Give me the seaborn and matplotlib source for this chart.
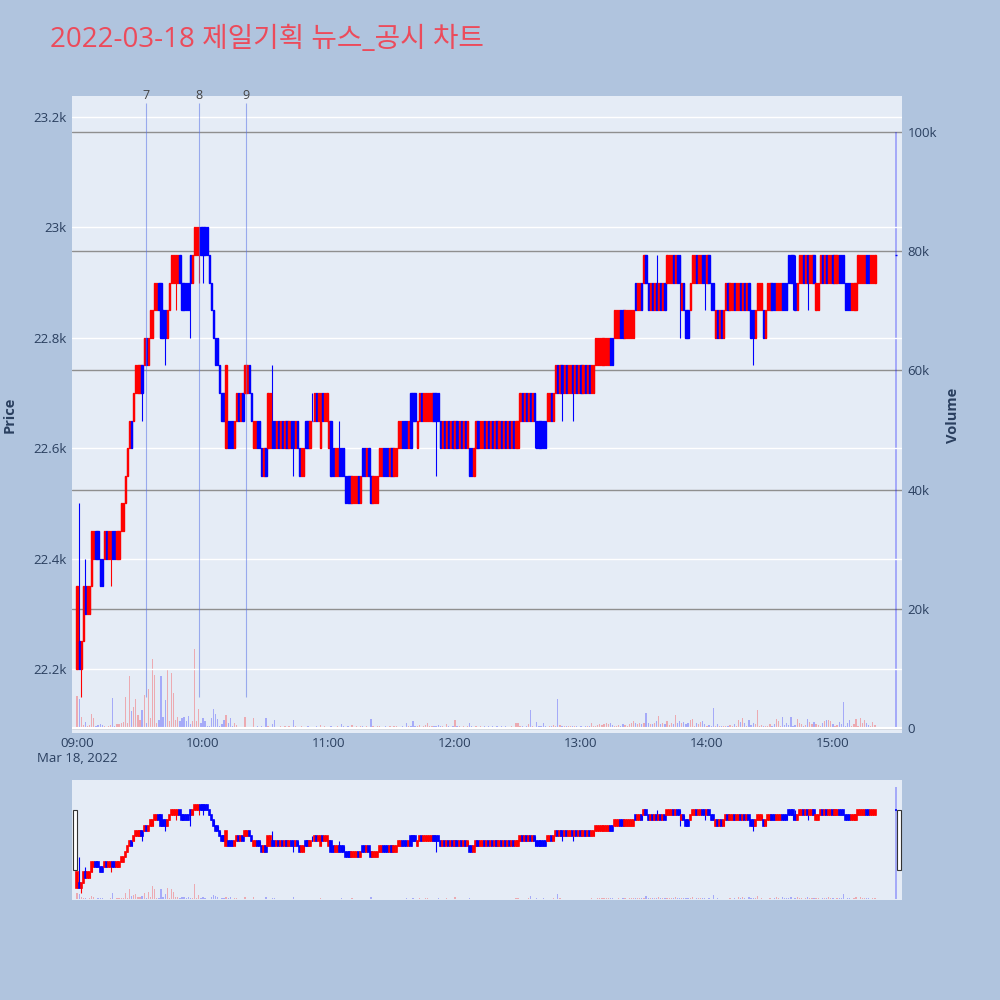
import numpy as np
import matplotlib
matplotlib.use("Agg")
import matplotlib.pyplot as plt
import seaborn as sns
from matplotlib.patches import Rectangle

sns.set_theme(style="white")
plt.rcParams["font.family"] = ["Open Sans", "Noto Sans CJK KR", "DejaVu Sans"]

# ------------------------------------------------------------
# data: 1-minute candles, prices in 50-won ticks above 22,000
# ------------------------------------------------------------
BASE = 22000
TICK = 50

# minutes after 09:00 (09:00 .. 15:20, then 15:30 closing auction)
minutes = list(range(381)) + [390]

open_ticks = [
    4, 5, 4, 5, 7, 6, 6, 7, 8, 9,          # 09:00
    9, 8, 8, 8, 9, 8, 8, 9, 9, 8,
    8, 9, 9, 10, 11, 12, 13, 13, 14, 14,
    14, 15, 15, 16, 15, 16, 16, 17, 17, 18,
    18, 17, 17, 16, 17, 18, 18, 18, 18, 19,
    18, 18, 18, 18, 19, 18, 19, 19, 19, 20,
    20, 20, 20, 19, 18, 17, 16, 16, 15, 14,  # 10:00
    14, 12, 13, 13, 13, 12, 13, 14, 13, 14,
    14, 14, 15, 14, 12, 12, 13, 13, 12, 11,
    12, 12, 12, 13, 13, 12, 13, 12, 13, 12,
    13, 12, 13, 13, 12, 13, 12, 11, 11, 13,
    13, 12, 13, 13, 14, 13, 12, 14, 13, 13,
    12, 13, 12, 11, 11, 12, 12, 12, 11, 11,  # 11:00
    11, 10, 10, 10, 11, 10, 12, 12, 11, 12,
    11, 10, 10, 10, 11, 11, 12, 12, 12, 11,
    12, 11, 11, 12, 12, 13, 13, 13, 12, 14,
    14, 14, 12, 13, 14, 13, 13, 13, 13, 13,
    14, 14, 14, 13, 12, 13, 12, 13, 12, 13,
    12, 13, 12, 13, 12, 13, 12, 12, 12, 11,  # 12:00
    12, 13, 12, 12, 13, 12, 13, 12, 13, 12,
    13, 12, 13, 12, 13, 12, 13, 12, 13, 12,
    12, 13, 14, 13, 14, 13, 14, 13, 14, 13,
    13, 13, 13, 13, 13, 13, 14, 13, 14, 15,
    14, 15, 14, 15, 14, 14, 15, 14, 15, 14,
    15, 14, 15, 14, 15, 14, 14, 15, 15, 15,  # 13:00
    15, 15, 15, 15, 16, 16, 16, 16, 16, 17,
    17, 16, 16, 16, 16, 16, 18, 17, 17, 18,
    18, 19, 18, 17, 18, 17, 18, 17, 18, 17,
    18, 18, 18, 18, 19, 18, 19, 19, 17, 18,
    17, 17, 17, 18, 18, 19, 18, 18, 19, 19,
    18, 19, 18, 18, 16, 17, 16, 17, 16, 17,  # 14:00
    18, 17, 17, 18, 17, 17, 18, 17, 18, 17,
    18, 17, 17, 16, 17, 17, 17, 17, 16, 17,
    17, 18, 18, 17, 17, 17, 18, 18, 18, 19,
    19, 19, 18, 17, 18, 18, 19, 18, 19, 18,
    18, 19, 17, 17, 18, 19, 18, 19, 18, 18,
    19, 18, 18, 19, 19, 19, 18, 18, 18, 17,  # 15:00
    17, 17, 18, 18, 18, 18, 19, 19, 18, 18,
    18,
    19,                                      # 15:30
]

close_ticks = [
    7, 4, 5, 7, 6, 7, 7, 9, 9, 8,
    8, 7, 7, 9, 8, 9, 9, 8, 8, 9,
    9, 10, 10, 11, 12, 13, 12, 14, 15, 15,
    15, 14, 16, 15, 16, 17, 17, 18, 18, 17,
    16, 16, 16, 17, 18, 19, 19, 19, 19, 18,
    17, 17, 17, 17, 18, 19, 20, 20, 20, 19,
    19, 19, 19, 18, 17, 16, 15, 15, 14, 13,
    13, 15, 12, 12, 12, 13, 14, 13, 14, 13,
    15, 15, 14, 13, 13, 13, 12, 12, 11, 12,
    11, 14, 14, 12, 12, 13, 12, 13, 12, 13,
    12, 13, 12, 12, 13, 12, 11, 12, 12, 12,
    12, 13, 13, 14, 13, 14, 14, 13, 14, 14,
    13, 11, 11, 12, 12, 11, 11, 11, 10, 10,
    10, 11, 11, 11, 10, 11, 11, 11, 12, 11,
    10, 11, 11, 11, 12, 12, 11, 11, 11, 12,
    11, 12, 12, 13, 13, 12, 12, 12, 13, 12,
    13, 13, 13, 14, 13, 14, 14, 14, 14, 14,
    13, 13, 13, 12, 13, 12, 13, 12, 13, 12,
    13, 12, 13, 12, 13, 12, 13, 11, 11, 12,
    13, 12, 13, 13, 12, 13, 12, 13, 12, 13,
    12, 13, 12, 13, 12, 13, 12, 13, 12, 13,
    13, 14, 13, 14, 13, 14, 13, 14, 13, 12,
    12, 12, 12, 12, 14, 14, 13, 14, 15, 14,
    15, 14, 15, 14, 15, 15, 14, 15, 14, 15,
    14, 15, 14, 15, 14, 15, 15, 16, 16, 16,
    16, 16, 16, 16, 15, 15, 17, 17, 17, 16,
    16, 17, 17, 17, 17, 17, 17, 18, 18, 17,
    19, 18, 17, 18, 17, 18, 17, 18, 17, 18,
    17, 19, 19, 19, 18, 19, 18, 18, 18, 17,
    16, 16, 18, 19, 19, 18, 19, 19, 18, 18,
    19, 18, 17, 17, 17, 16, 17, 16, 17, 18,
    17, 18, 18, 17, 18, 18, 17, 18, 17, 18,
    17, 16, 16, 17, 18, 18, 18, 16, 17, 18,
    18, 17, 17, 18, 18, 18, 17, 17, 17, 18,
    18, 18, 17, 18, 19, 19, 18, 19, 18, 19,
    19, 18, 18, 18, 19, 18, 19, 18, 19, 19,
    18, 19, 19, 18, 18, 18, 17, 17, 17, 18,
    18, 18, 19, 19, 19, 19, 18, 18, 19, 19,
    19,
    19,
]

# wicks that reach beyond the body (minute index -> tick)
wick_high = {1: 10, 4: 8, 93: 15, 112: 14, 125: 13, 276: 19, 342: 19}
wick_low = {2: 3, 16: 7, 31: 13, 42: 15, 47: 17, 54: 16, 58: 18, 60: 18,
            103: 11, 171: 11, 218: 12, 231: 13, 236: 13, 287: 16,
            299: 17, 322: 15, 341: 17, 348: 17}

# volume per minute, thousands of shares
volume_k = [
    5.3, 4.9, 1.8, 0.5, 1.0, 0.3, 0.5, 2.4, 1.7, 0.3,
    0.5, 0.6, 0.5, 0.3, 0.2, 0.4, 0.5, 5.0, 0.3, 0.6,
    0.7, 0.9, 1.0, 5.2, 0.8, 8.8, 2.8, 3.6, 4.9, 2.2,
    1.4, 3.0, 5.6, 0.8, 6.5, 1.6, 11.6, 8.9, 0.8, 1.3,
    8.8, 1.8, 4.7, 9.9, 1.1, 9.2, 5.9, 1.4, 1.8, 1.1,
    1.7, 1.9, 1.1, 2.0, 0.6, 1.1, 13.2, 1.1, 3.2, 0.9,
    1.7, 1.1, 0.4, 0.4, 1.7, 3.2, 2.4, 1.5, 0.4, 0.6,
    1.3, 2.1, 0.9, 1.6, 0.3, 0.9, 0.5, 0.2, 0.2, 0.2,
    1.8, 0.2, 0.2, 0.2, 1.6, 0.2, 0.3, 0.2, 0.3, 0.2,
    1.6, 0.3, 0.2, 0.6, 1.3, 0.2, 0.2, 0.3, 0.2, 0.3,
    0.2, 0.3, 0.2, 1.4, 0.3, 0.2, 0.2, 0.3, 0.2, 0.2,
    0.3, 0.2, 0.1, 0.2, 0.3, 0.2, 0.5, 0.2, 0.3, 0.2,
    0.2, 0.3, 0.2, 0.2, 0.4, 0.2, 0.7, 0.3, 0.2, 0.3,
    0.2, 0.5, 0.2, 0.3, 0.2, 0.4, 0.3, 0.2, 0.3, 0.2,
    1.5, 0.3, 0.2, 0.4, 0.3, 0.2, 0.2, 0.3, 0.2, 0.3,
    0.2, 0.4, 0.3, 0.2, 0.2, 0.3, 0.2, 0.8, 0.3, 0.3,
    1.2, 0.4, 0.3, 0.5, 0.2, 0.3, 0.5, 0.9, 0.3, 0.4,
    0.3, 0.3, 0.5, 0.3, 0.4, 0.2, 0.7, 0.3, 0.2, 0.3,
    1.4, 0.4, 0.3, 0.2, 0.3, 0.2, 0.3, 0.8, 0.3, 0.2,
    0.3, 0.2, 0.3, 0.2, 0.3, 0.2, 0.4, 0.2, 0.3, 0.2,
    0.3, 0.2, 0.4, 0.2, 0.3, 0.2, 0.2, 0.3, 0.2, 0.9,
    0.8, 0.4, 0.3, 0.2, 0.3, 0.6, 3.1, 0.3, 0.2, 1.0,
    0.4, 0.3, 0.8, 0.3, 0.2, 0.4, 0.3, 0.5, 0.3, 4.9,
    0.5, 0.3, 0.3, 0.4, 0.3, 0.4, 0.3, 0.3, 0.3, 0.2,
    0.3, 0.2, 0.3, 0.4, 0.3, 0.8, 0.4, 0.4, 0.5, 0.6,
    0.5, 0.6, 0.8, 0.7, 0.9, 0.5, 0.3, 0.4, 0.5, 0.4,
    0.6, 0.5, 0.4, 0.7, 0.8, 1.1, 0.9, 0.7, 0.8, 0.6,
    0.9, 2.5, 0.8, 0.6, 0.6, 0.8, 1.2, 2.0, 0.7, 0.9,
    0.7, 1.2, 0.5, 0.9, 0.6, 2.2, 0.8, 1.2, 0.9, 1.0,
    0.6, 0.8, 1.3, 1.5, 0.4, 0.9, 0.6, 1.0, 1.1, 0.6,
    0.3, 0.5, 0.3, 3.4, 0.4, 0.7, 0.4, 0.3, 0.4, 0.3,
    0.4, 0.5, 0.3, 0.6, 0.4, 1.4, 1.0, 1.7, 0.9, 0.3,
    1.4, 0.5, 0.9, 0.6, 3.1, 0.4, 0.5, 0.4, 0.3, 0.4,
    0.6, 0.3, 0.6, 1.5, 1.2, 0.4, 1.8, 0.5, 0.8, 0.5,
    1.9, 0.4, 0.5, 1.5, 0.9, 0.6, 0.4, 0.5, 1.5, 1.0,
    0.6, 1.0, 0.6, 0.5, 0.4, 0.9, 1.2, 1.3, 1.4, 1.1,
    0.6, 0.3, 0.5, 1.0, 0.6, 4.3, 0.4, 0.8, 1.3, 0.4,
    0.7, 1.5, 0.4, 1.6, 0.9, 1.3, 0.8, 0.5, 0.4, 1.0,
    0.5,
    100.0,
]

# news / disclosure markers
news_labels = ["7", "8", "9"]
news_minutes = [32.9, 58.1, 80.5]

hour_ticks = [0, 60, 120, 180, 240, 300, 360]
hour_labels = ["09:00", "10:00", "11:00", "12:00", "13:00", "14:00", "15:00"]
price_ticks = [22200, 22400, 22600, 22800, 23000, 23200]
volume_ticks = [0, 20000, 40000, 60000, 80000, 100000]

# ------------------------------------------------------------
# derived OHLC
# ------------------------------------------------------------
x = np.array(minutes, dtype=float)
o = BASE + TICK * np.array(open_ticks)
c = BASE + TICK * np.array(close_ticks)
hi = np.maximum(o, c).astype(float)
lo = np.minimum(o, c).astype(float)
for k, v in wick_high.items():
    hi[k] = BASE + TICK * v
for k, v in wick_low.items():
    lo[k] = BASE + TICK * v
vol = np.array(volume_k) * 1000
up = c > o
cols = np.where(up, "#FF0000", "#0000FF")

PLOT_BG = "#E5ECF6"
FIG_BG = "#B0C4DE"
TXT = "#2a3f5f"
XLIM = (-2.4, 392.9)
PLIM = (22084, 23238)
VLIM = (-840, 106000)


def draw_candles(ax, axv, body_lw):
    axv.bar(x, vol, width=0.6, color=cols, alpha=0.28, linewidth=0)
    ax.vlines(x, lo, hi, colors=cols, linewidth=0.8, zorder=3)
    ax.bar(x, np.abs(c - o), bottom=np.minimum(o, c), width=0.6,
           color=cols, edgecolor=cols, linewidth=body_lw, zorder=4)
    for a in (ax, axv):
        a.set_xlim(*XLIM)
        for s in a.spines.values():
            s.set_visible(False)
    ax.set_ylim(*PLIM)
    axv.set_ylim(*VLIM)


fig = plt.figure(figsize=(10, 10), dpi=100, facecolor=FIG_BG)

# ---------------- main panel ----------------
rect = [0.072, 0.267, 0.830, 0.637]
axv = fig.add_axes(rect, facecolor=PLOT_BG)
ax = fig.add_axes(rect, sharex=axv)
ax.patch.set_visible(False)

draw_candles(ax, axv, body_lw=1.0)

ax.set_yticks(price_ticks)
ax.set_yticklabels([f"{p / 1000:g}k" for p in price_ticks])
ax.grid(axis="y", color="white", linewidth=1.0, zorder=0)
ax.grid(axis="x", visible=False)
ax.set_axisbelow(True)
ax.tick_params(axis="y", length=0, pad=4, labelsize=9.5, labelcolor=TXT)
ax.tick_params(axis="x", bottom=False, labelbottom=False)

axv.yaxis.tick_right()
axv.set_yticks(volume_ticks)
axv.set_yticklabels(["0"] + [f"{v // 1000}k" for v in volume_ticks[1:]])
axv.grid(axis="y", color="#8f8f8f", linewidth=1.0)
axv.grid(axis="x", visible=False)
axv.axhline(0, color="white", linewidth=1.5, zorder=1)
axv.tick_params(axis="y", length=0, pad=4, labelsize=9.5, labelcolor=TXT)
axv.set_xticks(hour_ticks)
axv.set_xticklabels(hour_labels)
axv.tick_params(axis="x", length=0, pad=3, labelsize=9.5, labelcolor=TXT)

# news markers
ax.vlines(news_minutes, 22150, 23225, colors=(0.35, 0.45, 0.9, 0.55),
          linewidth=0.8, zorder=5)
for m, lab in zip(news_minutes, news_labels):
    ax.text(m, PLIM[1], lab, ha="center", va="center", fontsize=9,
            color="#444444", zorder=6)

fig.text(0.077, 1 - 0.758, "Mar 18, 2022", ha="center", va="center",
         fontsize=9.5, color=TXT)
fig.text(0.010, 1 - 0.415, "Price", rotation=90, ha="center", va="center",
         fontsize=10.5, fontweight="bold", color=TXT)
fig.text(0.953, 1 - 0.415, "Volume", rotation=90, ha="center", va="center",
         fontsize=10.5, fontweight="bold", color=TXT)
fig.text(0.050, 1 - 0.040, "2022-03-18 제일기획 뉴스_공시 차트", ha="left",
         va="center", fontsize=20, color="#EC4B5B")

# ---------------- range slider ----------------
srect = [0.072, 0.100, 0.830, 0.120]
sv = fig.add_axes(srect, facecolor=PLOT_BG)
sp = fig.add_axes(srect, sharex=sv)
sp.patch.set_visible(False)
draw_candles(sp, sv, body_lw=1.2)
for a in (sp, sv):
    a.set_xticks([])
    a.set_yticks([])
    a.grid(False)

for hx in (0.0725, 0.8965):
    fig.patches.append(Rectangle((hx, 0.130), 0.0045, 0.060,
                                 transform=fig.transFigure, facecolor="white",
                                 edgecolor="#333333", linewidth=0.8))

fig.savefig("out.png", dpi=100, facecolor=FIG_BG)
